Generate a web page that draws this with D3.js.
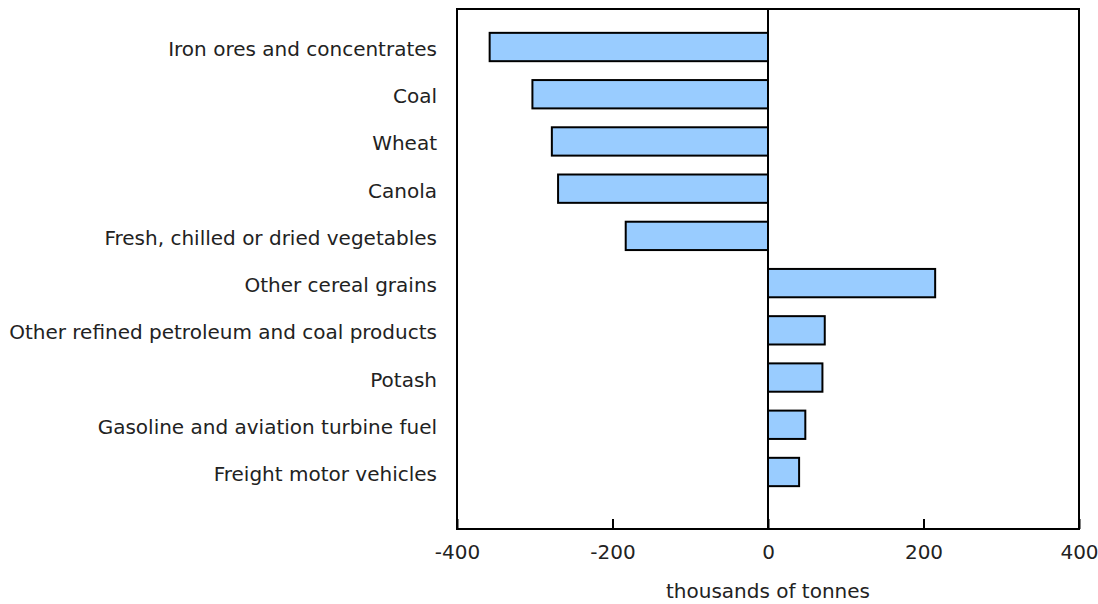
<!DOCTYPE html>
<html><head><meta charset="utf-8">
<script src="https://cdn.jsdelivr.net/npm/d3@7"></script>
<style>body{margin:0;background:#fff}svg{display:block}text{font-family:"DejaVu Sans",Verdana,sans-serif;fill:#222}</style>
</head><body>
<script>
const categories = ["Iron ores and concentrates","Coal","Wheat","Canola","Fresh, chilled or dried vegetables","Other cereal grains","Other refined petroleum and coal products","Potash","Gasoline and aviation turbine fuel","Freight motor vehicles"];
const values = [-358, -303, -278, -270, -183, 215, 73, 70, 48, 40];
const tickValues = [-400, -200, 0, 200, 400];
const axisTitle = "thousands of tonnes";

const W = 1098, H = 604;
const L = 457, R = 1079, T = 9, B = 529;
const svg = d3.select("body").append("svg").attr("width", W).attr("height", H);

const x = d3.scaleLinear().domain([-400, 400]).range([L, R]);
const y = d3.scaleBand().domain(categories).range([23.4, 495.6]).paddingInner(0.4).paddingOuter(0.2);

// frame
svg.append("rect").attr("x", L).attr("y", T).attr("width", R - L).attr("height", B - T)
  .attr("fill", "none").attr("stroke", "#000").attr("stroke-width", 2);

// bars
svg.append("g").selectAll("rect").data(categories).join("rect")
  .attr("x", (d, i) => x(Math.min(0, values[i])))
  .attr("width", (d, i) => Math.abs(x(values[i]) - x(0)))
  .attr("y", d => y(d))
  .attr("height", y.bandwidth())
  .attr("fill", "#99ccff").attr("stroke", "#000").attr("stroke-width", 2);

// zero line
svg.append("line").attr("x1", x(0)).attr("x2", x(0)).attr("y1", T).attr("y2", B)
  .attr("stroke", "#000").attr("stroke-width", 2);

// x axis
const xa = svg.append("g").attr("transform", `translate(0,${B})`)
  .call(d3.axisBottom(x).tickValues(tickValues).tickSize(-10).tickPadding(16).tickFormat(d => String(d)));
xa.select(".domain").remove();
xa.selectAll("line").attr("stroke", "#000").attr("stroke-width", 2);
xa.selectAll("text").attr("font-size", 20).attr("font-family", "DejaVu Sans").attr("fill", "#222");

// y labels
svg.append("g").selectAll("text").data(categories).join("text")
  .attr("x", 437).attr("y", d => y(d) + y.bandwidth() / 2)
  .attr("dy", "0.45em").attr("text-anchor", "end").attr("font-size", 20).text(d => d);

svg.append("text").attr("x", x(0)).attr("y", 598).attr("text-anchor", "middle").attr("font-size", 20).text(axisTitle);
</script>
</body></html>
